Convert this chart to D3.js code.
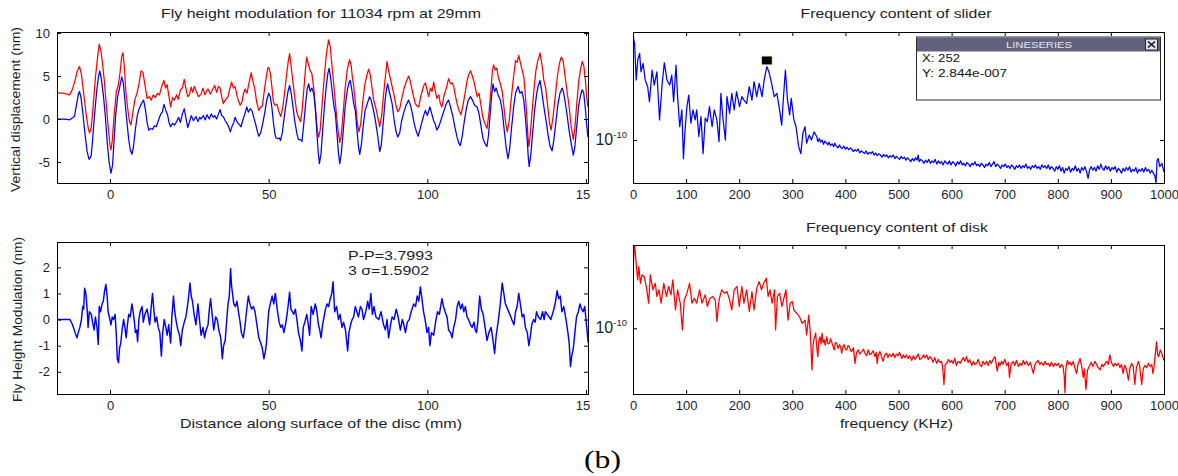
<!DOCTYPE html>
<html>
<head>
<meta charset="utf-8">
<script src="https://cdn.jsdelivr.net/npm/d3@7"></script>
<style>
  body { margin: 0; background: #fff; }
</style>
</head>
<body>
<svg id="fig" width="1178" height="476"></svg>
<script>
// ---- data ----
// top left: vertical displacement (nm) vs distance (mm)
const dispRed = [
  [-16.8,3.05],[-15,3.0],[-13.5,2.9],[-12.8,2.8],[-12,3.3],[-11,4.5],[-10.3,5.6],[-9.6,6.1],[-9.0,5.2],[-8.3,3.0],
  [-7.5,0.5],[-6.8,-1.2],[-6.4,-1.6],[-5.9,-1.0],[-5.3,1.5],[-4.6,4.8],[-3.9,7.2],[-3.4,8.7],[-2.9,8.0],[-2.4,6.6],
  [-1.8,4.5],[-1.2,1.8],[-0.5,-1.2],[0.0,-3.0],[0.3,-3.6],[0.7,-2.6],[1.3,0.4],[2.0,3.2],[2.6,3.9],[3.2,5.5],
  [3.7,7.3],[4.1,7.7],[4.5,6.2],[5.0,3.2],[5.6,1.2],[6.1,-0.2],[6.6,-0.7],[7.1,0.5],[7.8,2.2],[8.5,3.0],
  [9.2,4.2],[9.8,5.6],[10.4,5.4],[11.0,4.0],[11.7,2.4],[12.4,2.6],[13.0,2.2],[13.6,2.8],[14.3,2.5],[15.0,3.0],
  [15.6,2.8],[16.3,3.8],[17.0,4.5],[17.5,3.6],[18.0,4.0],[18.5,2.8],[19.1,1.4],[19.7,2.5],[20.3,2.2],[21.0,2.8],
  [21.5,2.3],[22.2,3.4],[22.8,3.6],[23.4,4.6],[24.0,3.4],[24.5,2.6],[25.0,2.8],[25.6,3.7],[26.1,3.1],[26.6,3.8],
  [27.3,3.1],[27.9,2.6],[28.7,2.9],[29.3,3.6],[29.9,2.8],[30.5,3.3],[30.9,3.5],[31.6,2.9],[32.3,3.4],[33.0,3.9],
  [33.6,3.1],[34.2,3.8],[34.7,3.6],[35.2,2.6],[35.7,1.8],[36.3,2.2],[37.2,2.6],[37.8,3.6],[38.3,4.3],[38.9,3.6],
  [39.4,3.8],[40.1,2.6],[40.6,2.0],[41.0,1.6],[41.6,2.0],[42.1,3.0],[42.6,3.5],[43.2,3.0],[43.8,4.2],[44.2,4.8],
  [44.5,5.4],[45.0,4.4],[45.6,3.6],[46.2,2.0],[46.9,1.0],[47.5,1.4],[48.0,1.5],[48.6,3.2],[49.2,4.8],[49.7,5.9],
  [50.0,6.0],[50.5,5.4],[51.0,3.8],[51.5,2.0],[52.0,1.6],[52.6,1.7],[53.2,0.9],[53.8,0.3],[54.4,1.2],[55.0,3.0],
  [55.6,5.0],[56.2,6.8],[56.6,7.6],[57.0,6.4],[57.6,4.5],[58.2,2.6],[58.8,0.9],[59.4,0.2],[60.0,-0.3],[60.5,0.8],
  [61.1,3.5],[61.6,5.8],[62.0,7.2],[62.5,6.4],[63.1,5.6],[63.6,5.3],[64.2,3.6],[64.8,1.0],[65.3,-1.2],[65.7,-2.1],
  [66.2,-1.4],[66.8,1.5],[67.5,4.8],[68.2,7.6],[68.9,9.2],[69.4,8.4],[69.9,6.4],[70.5,4.1],[71.0,2.0],[71.6,-0.4],
  [72.0,-1.8],[72.4,-2.75],[72.9,-1.8],[73.5,0.8],[74.1,3.6],[74.8,5.8],[75.5,6.9],[76.0,6.2],[76.4,4.8],[76.8,3.8],
  [77.3,2.0],[77.9,-0.3],[78.4,-1.5],[79.0,-0.6],[79.6,1.8],[80.3,4.0],[80.9,5.0],[81.5,5.8],[82.0,5.2],[82.5,3.8],
  [83.1,2.2],[83.7,1.4],[84.4,0.2],[85.0,-0.9],[85.6,0.4],[86.3,3.2],[86.8,5.0],[87.3,6.7],[87.8,5.6],[88.3,4.8],
  [88.9,3.8],[89.5,2.8],[90.1,1.6],[90.7,0.85],[91.3,1.2],[92.0,2.5],[92.7,3.6],[93.4,4.4],[94.1,5.0],[94.7,4.3],
  [95.3,3.2],[95.8,2.4],[96.2,1.8],[96.8,1.5],[97.3,1.4],[97.9,2.6],[98.5,3.4],[98.9,3.9],[99.4,4.2],[99.9,3.4],
  [100.4,2.6],[101.0,3.6],[101.5,3.2],[102.0,4.3],[102.5,3.3],[103.0,2.4],[103.6,2.8],[104.1,1.8],[104.6,1.4],[105.3,2.8],
  [106.0,3.6],[106.7,4.7],[107.3,4.1],[107.8,4.2],[108.3,3.8],[108.9,2.6],[109.5,1.6],[110.0,1.0],[110.6,0.5],[111.2,1.5],
  [111.9,3.0],[112.6,4.6],[113.1,5.2],[113.6,5.6],[114.2,5.0],[114.8,4.2],[115.3,3.3],[115.7,2.6],[116.3,3.0],[116.9,1.6],
  [117.5,0.2],[118.2,-0.6],[118.8,-1.1],[119.4,0.6],[120.0,3.2],[120.5,5.6],[120.9,6.3],[121.4,5.7],[121.9,5.9],[122.4,4.8],
  [123.0,4.1],[123.6,3.2],[124.2,1.2],[124.7,-0.5],[125.2,-1.5],[125.8,-0.2],[126.5,2.6],[127.2,5.0],[127.8,6.8],[128.3,6.6],
  [128.8,7.4],[129.3,6.6],[129.8,5.8],[130.4,4.9],[130.9,2.8],[131.4,0.0],[131.7,-2.0],[132.0,-3.2],[132.4,-2.0],[133.0,0.8],
  [133.6,3.4],[134.2,5.6],[134.8,6.8],[135.2,7.2],[135.5,7.7],[136.0,6.6],[136.4,5.6],[136.7,4.5],[137.3,3.6],[137.9,1.6],
  [138.5,-0.4],[139.0,-1.3],[139.6,0.2],[140.3,2.6],[141.0,5.0],[141.6,6.4],[142.2,7.2],[142.8,6.8],[143.4,5.0],[144.1,3.0],
  [144.7,1.4],[145.3,-0.8],[146.0,-2.4],[146.5,-1.0],[147.1,1.8],[147.7,4.4],[148.3,5.8],[148.8,6.7],[149.3,6.2],[149.8,4.6],
  [150.2,2.6],[150.6,1.4]
];
const dispBlue = [
  [-16.8,0.0],[-15,0.0],[-13.5,-0.05],[-12.8,-0.1],[-12.0,0.1],[-11.2,0.3],[-10.5,1.8],[-9.9,3.0],[-9.6,3.2],[-9.1,2.4],
  [-8.5,0.5],[-7.8,-2.0],[-7.2,-3.8],[-6.6,-4.7],[-6.2,-4.5],[-5.9,-4.2],[-5.4,-2.0],[-4.8,0.8],[-4.2,3.2],[-3.6,5.0],
  [-3.2,5.6],[-2.7,4.6],[-2.1,2.8],[-1.5,0.5],[-0.9,-2.6],[-0.3,-5.0],[0.3,-6.3],[0.8,-5.4],[1.3,-2.4],[1.8,0.5],
  [2.4,2.6],[3.0,3.6],[3.7,4.9],[4.2,4.2],[4.7,2.2],[5.3,-0.2],[5.9,-2.4],[6.4,-3.6],[6.9,-4.1],[7.4,-3.2],
  [8.0,-1.2],[8.6,0.4],[9.2,1.2],[9.9,1.8],[10.6,2.2],[11.2,1.0],[11.7,-0.4],[12.2,-1.3],[12.8,-1.1],[13.4,-1.2],
  [14.0,-0.8],[14.6,-0.9],[15.4,0.0],[16.0,0.6],[16.5,0.8],[17.0,1.7],[17.6,1.0],[18.2,0.4],[18.6,-0.4],[19.1,-0.9],
  [19.7,-0.5],[20.3,-0.7],[21.0,-0.3],[21.6,0.2],[22.2,-0.4],[22.8,0.6],[23.4,1.2],[23.9,0.2],[24.5,-1.0],[25.0,-0.4],
  [25.6,0.4],[26.3,-0.2],[27.1,0.3],[27.7,-0.3],[28.3,0.2],[28.7,0.0],[29.4,0.4],[30.0,-0.1],[30.6,0.5],[31.3,0.0],
  [31.9,0.6],[32.5,0.2],[33.0,0.4],[33.6,0.0],[34.2,0.6],[34.7,1.1],[35.2,0.4],[35.8,0.2],[36.3,-0.2],[37.0,-0.6],
  [37.5,-1.0],[37.9,-1.5],[38.5,-0.8],[39.0,-0.4],[39.4,0.2],[40.0,-0.3],[40.6,-0.6],[41.3,-0.9],[41.8,-0.2],[42.5,0.6],
  [43.1,1.4],[43.6,0.8],[44.2,1.2],[44.7,1.0],[45.3,0.2],[45.9,-0.6],[46.4,-1.4],[46.9,-2.0],[47.5,-1.6],[48.2,-0.4],
  [48.8,0.8],[49.4,2.2],[50.0,3.0],[50.5,2.6],[51.0,1.4],[51.5,-0.4],[52.0,-1.8],[52.3,-2.2],[52.9,-2.3],[53.4,-2.2],
  [53.7,-2.5],[54.3,-1.6],[54.9,0.2],[55.5,1.8],[56.1,3.2],[56.6,3.9],[57.1,3.0],[57.6,1.6],[58.2,-0.2],[58.9,-1.7],
  [59.4,-2.4],[60.0,-2.4],[60.5,-2.6],[61.0,-0.8],[61.6,1.6],[62.1,3.4],[62.6,4.1],[63.1,3.2],[63.6,3.6],[64.2,3.0],
  [64.7,1.2],[65.2,-1.6],[65.6,-3.8],[66.0,-5.2],[66.5,-4.0],[67.0,-1.4],[67.6,1.6],[68.2,4.0],[68.7,5.4],[69.1,5.9],
  [69.6,4.6],[70.2,2.6],[70.6,1.4],[71.0,0.7],[71.5,-1.6],[72.0,-4.0],[72.4,-5.2],[72.9,-4.0],[73.5,-1.4],[74.1,1.4],
  [74.8,3.4],[75.3,4.2],[75.7,4.5],[76.2,3.4],[76.8,1.8],[77.3,1.0],[77.8,-1.2],[78.3,-3.2],[78.7,-4.1],[79.2,-3.0],
  [79.8,-0.8],[80.4,1.0],[81.1,1.8],[81.8,2.6],[82.3,2.2],[82.9,1.2],[83.6,-0.1],[84.3,-1.8],[85.0,-3.8],[85.5,-3.0],
  [86.1,-0.4],[86.7,2.2],[87.1,3.4],[87.5,4.1],[88.0,3.2],[88.4,2.6],[88.9,1.8],[89.5,0.0],[90.1,-1.4],[90.7,-2.1],
  [91.3,-1.6],[91.9,-0.2],[92.6,0.8],[93.3,1.6],[94.1,2.2],[94.7,1.6],[95.3,0.6],[95.9,-0.6],[96.5,-1.4],[97.1,-2.0],
  [97.7,-1.2],[98.4,-0.2],[99.0,0.6],[99.4,1.0],[100.0,0.4],[100.8,1.4],[101.4,0.6],[102.0,-0.2],[102.5,-0.6],[103.0,-1.3],
  [103.7,-0.8],[104.4,0.0],[105.1,0.8],[105.8,1.6],[106.3,2.0],[106.7,2.2],[107.3,1.4],[108.0,0.4],[108.6,-0.8],[109.3,-2.0],
  [109.9,-2.8],[110.4,-3.1],[111.0,-2.0],[111.6,-0.4],[112.3,1.2],[112.9,2.2],[113.6,2.6],[114.2,2.2],[114.9,1.6],[115.7,1.4],
  [116.3,0.6],[116.9,-0.8],[117.5,-2.2],[118.1,-2.8],[118.8,-3.2],[119.3,-1.8],[119.8,0.6],[120.3,2.8],[120.7,4.1],[121.2,3.2],
  [121.7,3.6],[122.3,2.8],[123.0,2.2],[123.6,1.0],[124.2,-1.2],[124.8,-3.2],[125.4,-4.6],[125.9,-3.6],[126.5,-1.2],[127.2,1.4],
  [127.8,3.0],[128.2,3.4],[128.6,3.8],[129.2,3.0],[129.8,3.2],[130.4,2.2],[130.9,0.2],[131.5,-2.6],[131.8,-4.4],[132.1,-5.5],
  [132.6,-4.2],[133.2,-1.6],[133.8,1.0],[134.4,2.8],[134.9,3.8],[135.5,4.5],[136.0,3.4],[136.5,2.0],[136.9,1.0],[137.5,-0.4],
  [138.1,-2.0],[138.7,-3.2],[139.3,-3.7],[139.8,-2.6],[140.5,-0.4],[141.2,1.8],[141.8,3.0],[142.5,3.6],[143.0,3.0],[143.6,1.6],
  [144.1,0.3],[144.7,-1.4],[145.4,-3.0],[146.0,-4.2],[146.5,-3.2],[147.1,-0.8],[147.7,1.6],[148.3,2.8],[148.8,3.4],[149.3,3.0],
  [149.8,1.2],[150.2,-0.6],[150.6,-2.1]
];

// bottom left: fly height modulation (nm) vs distance (mm)
const flyMod = [
  [-16.8,0],[-15.0,0],[-13.5,0],[-12.6,0.0],[-11.8,-0.2],[-11.0,-0.5],[-10.4,-0.7],[-10.0,-0.5],[-9.5,-0.3],[-9.0,0.0],
  [-8.6,0.5],[-8.3,0.4],[-8.0,1.2],[-7.6,1.0],[-7.2,0.4],[-6.9,-0.3],[-6.5,0.3],[-5.9,0.2],[-5.5,-0.1],[-5.0,-0.4],
  [-4.6,0.1],[-4.1,-0.3],[-3.7,-0.95],[-3.4,0.5],[-3.0,0.3],[-2.5,0.6],[-2.1,0.7],[-1.7,1.1],[-1.3,1.35],[-0.9,0.9],
  [-0.6,0.3],[-0.2,0.1],[0.3,-0.2],[0.7,0.1],[1.1,0.0],[1.6,0.2],[2.0,-0.6],[2.3,-1.5],[2.7,-1.65],[3.0,-1.1],
  [3.4,-0.9],[3.8,-0.4],[4.3,0.0],[4.7,-0.3],[5.1,-0.7],[5.5,-0.2],[5.9,0.2],[6.4,0.1],[6.9,0.6],[7.3,0.3],
  [7.7,-0.1],[8.0,-0.5],[8.4,-0.4],[8.7,-0.85],[9.1,0.0],[9.5,0.3],[10.1,0.5],[10.5,-0.1],[11.0,0.2],[11.7,0.4],
  [12.1,0.1],[12.5,-0.2],[13.0,0.5],[13.4,1.0],[13.8,0.4],[14.2,-0.1],[14.7,0.1],[15.2,-0.3],[15.7,-0.5],[16.2,-1.4],
  [16.6,-0.5],[17.1,0.0],[17.6,-0.3],[18.0,-0.6],[18.5,-0.2],[19.1,-0.9],[19.5,0.1],[20.0,0.9],[20.4,0.3],[20.9,-0.1],
  [21.4,-0.4],[21.9,-0.6],[22.3,-1.0],[22.8,-0.4],[23.4,-0.1],[23.9,0.1],[24.3,0.4],[24.8,0.9],[25.2,1.4],[25.6,0.9],
  [26.0,0.7],[26.5,0.2],[27.1,-0.2],[27.7,0.6],[28.2,0.0],[28.7,-0.6],[29.3,-0.3],[29.8,-0.7],[30.3,-0.4],[30.9,-0.2],
  [31.3,0.4],[31.7,0.8],[32.2,0.2],[32.7,-0.4],[33.3,0.1],[33.8,0.0],[34.3,-0.4],[34.9,-0.7],[35.4,-1.5],[35.8,-1.0],
  [36.3,-0.8],[36.8,0.0],[37.2,0.6],[37.6,0.9],[38.0,1.95],[38.3,1.3],[38.6,1.0],[39.0,0.6],[39.5,0.5],[40.0,0.7],
  [40.6,0.2],[41.0,-0.1],[41.4,-0.5],[42.0,-0.7],[42.5,-0.3],[43.0,0.3],[43.6,0.9],[44.1,0.6],[44.6,0.4],[45.2,0.5],
  [45.7,0.3],[46.3,-0.2],[46.9,-0.7],[47.5,-0.9],[48.0,-1.1],[48.5,-1.5],[49.0,-1.2],[49.3,-0.9],[49.7,-0.2],[50.0,0.3],
  [50.5,0.6],[51.1,0.9],[51.6,0.6],[52.1,1.0],[52.5,0.6],[52.8,0.3],[53.3,-0.1],[53.8,-0.3],[54.3,-0.2],[54.8,-0.5],
  [55.3,-0.2],[55.8,0.2],[56.2,0.6],[56.6,1.05],[57.0,0.4],[57.5,0.3],[57.9,0.2],[58.4,0.4],[58.9,0.0],[59.4,-0.5],
  [60.0,-0.8],[60.5,-1.2],[60.9,-0.3],[61.4,-0.1],[62.0,0.2],[62.5,-0.2],[62.9,-0.6],[63.4,0.5],[64.0,0.2],[64.7,0.6],
  [65.2,0.3],[65.7,-0.2],[66.1,-0.4],[66.5,-0.7],[67.0,-0.2],[67.3,0.0],[67.9,0.4],[68.4,0.6],[68.9,0.5],[69.4,0.8],
  [69.9,1.0],[70.3,1.45],[70.8,0.3],[71.4,0.5],[72.0,0.0],[72.5,0.2],[73.1,-0.3],[73.6,-0.1],[74.2,-0.4],[74.9,-1.2],
  [75.3,-0.5],[75.8,-0.2],[76.3,0.0],[76.8,0.1],[77.3,0.5],[77.8,0.3],[78.3,0.1],[78.9,0.5],[79.4,0.4],[79.9,0.0],
  [80.6,0.3],[81.2,0.7],[81.7,0.4],[82.2,1.0],[82.7,0.2],[83.2,0.5],[83.8,0.1],[84.7,0.0],[85.4,0.3],[86.2,-0.2],
  [86.8,-0.4],[87.3,0.0],[87.8,-0.7],[88.4,-0.2],[88.9,0.1],[89.5,0.0],[90.2,0.4],[90.8,0.1],[91.5,-0.4],[92.1,0.0],
  [92.6,-0.2],[93.1,-0.5],[93.7,-0.1],[94.3,0.0],[94.9,0.3],[95.7,0.6],[96.3,0.5],[96.8,0.9],[97.3,0.7],[97.8,1.25],
  [98.3,0.8],[98.8,0.3],[99.3,0.0],[99.9,-0.5],[100.4,-0.3],[100.8,-1.0],[101.3,-0.5],[102.0,-0.6],[102.6,-0.1],[103.2,0.3],
  [103.8,0.2],[104.6,0.8],[105.1,0.5],[105.6,0.3],[106.2,0.1],[106.7,-0.4],[107.3,-0.5],[107.8,-0.7],[108.3,-0.3],[108.9,0.0],
  [109.4,0.5],[109.9,0.7],[110.5,0.4],[111.0,0.6],[111.5,0.3],[112.0,0.5],[112.5,0.1],[113.0,0.0],[113.6,-0.2],[114.1,-0.3],
  [114.7,-0.1],[115.1,-0.4],[115.5,-0.5],[115.9,-0.1],[116.5,0.9],[117.0,0.4],[117.6,0.2],[118.2,-0.3],[118.8,-0.8],[119.4,-0.5],
  [120.1,-0.3],[120.6,-0.7],[121.2,-1.3],[121.7,-0.6],[122.3,-0.1],[122.9,0.5],[123.6,1.4],[124.1,1.0],[124.6,0.6],[125.3,0.4],
  [126.0,0.2],[126.6,0.0],[127.3,-0.2],[127.8,0.3],[128.3,0.5],[128.8,1.0],[129.3,0.6],[129.9,0.1],[130.4,0.2],[130.9,-0.3],
  [131.5,-0.5],[132.0,-1.0],[132.5,-0.6],[132.9,-0.2],[133.5,0.0],[134.0,-0.1],[134.4,0.3],[135.0,0.1],[135.7,0.0],[136.3,0.3],
  [136.8,0.0],[137.2,0.3],[137.8,0.2],[138.4,0.1],[138.9,0.0],[139.4,0.2],[139.9,0.4],[140.4,0.7],[140.9,1.1],[141.4,0.8],
  [141.9,0.9],[142.4,0.3],[143.0,0.5],[143.7,0.0],[144.3,-0.5],[144.7,-0.9],[145.1,-1.8],[145.5,-1.4],[146.0,-1.1],[146.5,-0.5],
  [147.0,0.1],[147.6,0.3],[148.1,0.6],[148.6,0.4],[149.1,0.3],[149.6,0.5],[150.0,0.0],[150.7,-0.9]
];

// spectra: frequency (KHz) vs amplitude, in units of 1e-10
const SPEC_UNIT = 1e-10;
const sliderSpec = [
  [0,8.0],[1.5,6.8],[3,6.4],[6,3.16],[9,4.64],[12.5,5.27],[15,3.7],[19,4.35],[23,3.16],[27.6,2.78],
  [31,2.09],[36,3.83],[40,2.87],[45,3.7],[50,1.47],[55,2.97],[59,4.4],[64,3.16],[69,2.87],[73,3.48],
  [76.5,2.09],[81,4.2],[84,2.3],[88,1.29],[92,1.78],[95,0.70],[98,1.21],[101.6,1.9],[105,2.37],[109,1.38],
  [113,1.78],[117,1.47],[120,1.78],[124,1.07],[128,1.57],[132,0.77],[136,1.52],[140,1.42],[144,1.9],[149,1.29],
  [153,1.78],[158,1.47],[162,0.97],[165.6,2.45],[169,1.57],[174,1.0],[177,2.3],[182,1.67],[186,2.45],[190.6,1.78],
  [195,2.53],[200.6,1.9],[205,2.3],[209,2.15],[214,2.02],[219,2.78],[224,2.15],[228,3.06],[233,2.3],[237.6,2.97],
  [243,2.3],[247,3.16],[252,4.08],[256,3.7],[261,2.97],[266,2.3],[271,2.45],[276,1.78],[280,1.33],[283,2.15],
  [287,3.83],[291,2.15],[295,1.62],[298,2.22],[303,1.47],[307,1.29],[312,0.88],[316,0.77],[320,1.14],[324,1.29],
  [327,0.94],[332,1.1],[336,1.0],[341,1.17],
  [346,1.07],[348,0.97],[351,1.03],[353,0.96],[356,1.00],[359,0.92],[361,0.98],[364,0.95],[367,0.91],[369,0.96],
  [372,0.90],[375,0.93],[378,0.88],[380,0.94],[383,0.89],[386,0.86],[389,0.91],[391,0.87],[394,0.85],[397,0.89],
  [400,0.84],[403,0.87],[406,0.83],[409,0.86],[412,0.84],[415,0.80],[418,0.83],[421,0.81],[424,0.84],[427,0.78],
  [430,0.81],[433,0.79],[436,0.77],[439,0.81],[442,0.76],[445,0.79],[448,0.77],[451,0.80],[454,0.75],[457,0.78],
  [460,0.74],[463,0.77],[466,0.75],[469,0.72],[472,0.76],[475,0.73],[478,0.75],[481,0.71],[484,0.74],[487,0.72],
  [490,0.75],[493,0.70],[496,0.73],[499,0.71],[502,0.69],[505,0.73],[508,0.70],[511,0.72],[514,0.68],[517,0.71],
  [520,0.69],[523,0.66],[526,0.70],[529,0.67],[532,0.71],[535,0.68],[537,0.75],[539,0.66],[542,0.69],[545,0.67],
  [548,0.64],[551,0.68],[554,0.65],[557,0.69],[560,0.64],[563,0.67],[566,0.65],[569,0.69],[572,0.63],[575,0.67],
  [578,0.64],[581,0.66],[584,0.62],[587,0.67],[590,0.65],[593,0.63],[596,0.67],[599,0.62],[602,0.66],[605,0.64],
  [608,0.61],[611,0.66],[614,0.63],[617,0.67],[620,0.62],[623,0.64],[626,0.61],[629,0.65],[632,0.63],[635,0.60],
  [638,0.64],[641,0.62],[644,0.66],[647,0.61],[650,0.63],[653,0.60],[656,0.64],[659,0.62],[662,0.59],[665,0.63],
  [668,0.61],[671,0.65],[674,0.60],[677,0.63],[680,0.66],[683,0.60],[686,0.63],[689,0.61],[692,0.58],[695,0.62],
  [698,0.60],[701,0.63],[704,0.59],[707,0.61],[710,0.58],[713,0.62],[716,0.60],[719,0.57],[722,0.61],[725,0.59],
  [728,0.62],[731,0.58],[734,0.61],[737,0.59],[740,0.63],[743,0.58],[746,0.60],[749,0.57],[752,0.61],[755,0.59],
  [758,0.62],[761,0.58],[764,0.60],[767,0.57],[770,0.62],[773,0.59],[776,0.61],[779,0.58],[782,0.62],[785,0.57],
  [788,0.60],[791,0.58],[794,0.55],[797,0.60],[800,0.57],[803,0.61],[806,0.55],[809,0.59],[812,0.53],[815,0.58],
  [818,0.56],[821,0.60],[824,0.54],[827,0.58],[830,0.56],[833,0.61],[836,0.55],[839,0.58],[842,0.53],[845,0.59],
  [848,0.56],[851,0.60],[854,0.55],[857,0.48],[860,0.57],[863,0.60],[866,0.56],[869,0.59],[872,0.55],[875,0.61],
  [878,0.57],[881,0.63],[884,0.58],[887,0.56],[890,0.61],[893,0.57],[896,0.60],[899,0.55],[902,0.59],[905,0.57],
  [908,0.60],[911,0.54],[914,0.58],[917,0.56],[920,0.53],[923,0.58],[926,0.55],[929,0.59],[932,0.56],[935,0.60],
  [938,0.54],[941,0.57],[944,0.55],[947,0.59],[950,0.53],[953,0.57],[956,0.55],[959,0.58],[962,0.54],[965,0.59],
  [968,0.55],[971,0.57],[974,0.53],[977,0.56],[980,0.53],[983,0.50],[985,0.44],[987,0.68],[989,0.70],[992,0.60],
  [996,0.64],[1000,0.54]
];
const diskSpec = [
  [0,5.2],[1,3.48],[2.5,5.2],[6,3.48],[8.8,2.53],[11,3.26],[14,2.37],[17,2.78],[21,2.70],[25,2.23],
  [29.5,1.62],[32.6,2.78],[37.6,2.09],[42,2.37],[45,1.84],[49,2.09],[53,1.62],[58,2.37],[63,1.84],[67,2.23],
  [71.5,1.90],[75,2.53],[80,1.42],[84,2.09],[89,1.62],[93,0.97],[96.5,1.72],[101.6,1.96],[106.5,2.37],[111,1.62],
  [115.4,1.78],[120,1.62],[125.4,2.09],[130,1.62],[136,1.90],[140,1.52],[145,1.78],[150,1.84],[155,1.72],[158,1.14],
  [162,1.72],[167,2.09],[172,1.96],[177,2.02],[182,1.72],[186,1.42],[190.6,2.09],[196,2.23],[200,1.52],[205,2.23],
  [209,1.62],[214,2.09],[219,1.38],[224,2.02],[228,1.42],[233,2.15],[237.6,2.45],[242,2.09],[246,2.37],[251,2.61],
  [254.5,1.84],[258,2.09],[262,1.62],[266.5,2.09],[268.5,0.97],[272,1.84],[276,1.96],[280.5,1.52],[285,1.84],[288,2.09],
  [292,1.17],[296,1.62],[300,1.67],[303,1.42],[308.5,1.33],[313.5,1.25],[318.5,1.10],[324,1.17],[327,0.88],[331,1.29],
  [334,0.91],[337,0.45],[339,0.72],[341,0.82],[344,0.91],[346,0.70],[348,0.58],[350,0.78],[352,0.85],[354,0.74],
  [356,0.91],[358,0.76],[360,0.80],[362,0.72],[365,0.85],[367,0.74],[370,0.75],[372,0.82],[374,0.77],[377,0.70],
  [379,0.66],[381,0.76],[384,0.75],[386,0.68],[389,0.73],[391,0.70],[393,0.62],[395,0.69],[397.5,0.73],[400,0.67],
  [402.5,0.66],[405,0.72],[407.5,0.70],[410,0.65],[412,0.64],[415,0.69],[418,0.51],[421,0.63],[424.5,0.66],[427,0.61],
  [431,0.64],[434,0.67],[437,0.62],[440,0.59],[443,0.66],[446,0.60],[449.5,0.62],[452,0.65],[456,0.58],[458,0.63],
  [460,0.51],[462,0.60],[465,0.64],[468,0.58],[471,0.53],[474,0.60],[477.6,0.62],[480,0.57],[483,0.61],[487,0.58],
  [490,0.62],[493,0.57],[496,0.61],[499,0.59],[502,0.63],[506,0.56],[509,0.60],[512,0.57],[515,0.60],[518,0.56],
  [521,0.59],[525,0.54],[528,0.59],[531,0.55],[534,0.58],[537,0.61],[540,0.55],[543.5,0.56],[547,0.60],[550,0.57],
  [553,0.60],[556,0.55],[559,0.58],[562,0.56],[565,0.52],[568,0.57],[572,0.51],[575,0.55],[578,0.52],[581,0.53],
  [583,0.48],[585.6,0.34],[588,0.50],[590.6,0.51],[594,0.55],[597,0.52],[600,0.54],[603,0.51],[606,0.56],[609,0.49],
  [612,0.53],[616,0.51],[619,0.54],[622,0.57],[625,0.53],[628,0.58],[631,0.52],[634,0.55],[638,0.49],[641,0.53],
  [644,0.50],[647,0.51],[650,0.55],[653,0.50],[656.5,0.48],[659,0.53],[663,0.50],[666,0.53],[669,0.49],[672,0.54],
  [675,0.51],[678,0.55],[682,0.58],[684,0.50],[686,0.44],[689,0.52],[691,0.49],[694,0.53],[697,0.50],[700,0.55],
  [704,0.49],[707,0.52],[709,0.39],[712,0.50],[716,0.53],[719,0.49],[722,0.54],[726,0.48],[729,0.51],[732,0.49],
  [735,0.54],[738,0.50],[741,0.53],[744.5,0.49],[748,0.52],[751,0.47],[754,0.42],[757,0.50],[760,0.52],[763,0.54],
  [766,0.50],[769,0.52],[773,0.49],[776,0.53],[779,0.50],[782,0.51],[785,0.48],[788,0.52],[792,0.48],[795,0.51],
  [798,0.49],[801,0.51],[804,0.47],[807,0.50],[810,0.48],[812,0.40],[813.5,0.29],[815,0.45],[818,0.54],[821,0.50],
  [823,0.52],[826,0.49],[829,0.53],[832,0.47],[835.5,0.42],[838,0.50],[840,0.53],[842,0.56],[845,0.48],[848,0.39],
  [850,0.46],[853,0.31],[856,0.45],[860,0.49],[863,0.52],[866,0.48],[870,0.53],[873,0.50],[876,0.47],[880,0.45],
  [883,0.50],[886,0.48],[889,0.51],[892,0.53],[895,0.50],[898,0.60],[901,0.52],[905,0.48],[908,0.51],[911,0.49],
  [914,0.51],[917,0.47],[920,0.50],[923,0.42],[926,0.49],[929,0.46],[933,0.37],[936,0.47],[939,0.51],[942,0.48],
  [945,0.34],[948,0.47],[951.6,0.53],[954,0.49],[958,0.34],[961,0.46],[964,0.49],[967,0.47],[970.5,0.51],[974,0.48],
  [977,0.50],[979,0.42],[981,0.47],[983,0.58],[986,0.77],[988,0.60],[990,0.58],[993,0.66],[995.7,0.62],[998,0.57],
  [1000,0.54]
];

const distTicks = [0, 50, 100, 150];
const dispTicks = [-5, 0, 5, 10];
const modTicks = [-2, -1, 0, 1, 2];
const freqTicks = [0, 100, 200, 300, 400, 500, 600, 700, 800, 900, 1000];
const specTicks = [1e-10];
const dataTip = { x: 252, y: 2.844e-7, markerLevel: 4.6 };
const stats = ['P-P=3.7993', '3 \u03c3=1.5902'];

// ---- layout ----
const W = 1178, H = 476;
const FONT = '"Liberation Sans", Arial, sans-serif';
const INK = '#1d1d2b';
const svg = d3.select('#fig');
svg.append('rect').attr('width', W).attr('height', H).attr('fill', '#fff');

// the left column is cut at x=590 in the original, so the last "150" loses its 0
const leftRoot = svg.append('svg').attr('x', 0).attr('y', 0).attr('width', 590).attr('height', H);
const rightRoot = svg.append('g');

function label(root, txt, x, y, size, len, opts = {}) {
  const t = root.append('text')
    .attr('font-family', FONT).attr('font-size', size).attr('fill', INK)
    .attr('text-anchor', opts.anchor || 'middle')
    .attr('transform', `translate(${x},${y})` + (opts.rotate ? ' rotate(-90)' : ''))
    .text(txt);
  if (len) t.attr('textLength', len).attr('lengthAdjust', 'spacingAndGlyphs');
  return t;
}

function drawPanel(p) {
  const g = p.root.append('g');
  const clipId = 'clip-' + p.id;
  g.append('clipPath').attr('id', clipId).append('rect')
    .attr('x', p.x0).attr('y', p.y0).attr('width', p.x1 - p.x0).attr('height', p.y1 - p.y0);

  const line = d3.line().x(d => p.x(d[0])).y(d => p.y(d[1] * (p.unit || 1)));
  p.series.forEach(s => {
    g.append('path').datum(s.data)
      .attr('d', line)
      .attr('fill', 'none')
      .attr('stroke', s.color)
      .attr('stroke-width', s.width || 1.25)
      .attr('stroke-linejoin', 'round')
      .attr('clip-path', `url(#${clipId})`);
  });

  const fmt = d => String(d);
  const axes = [
    g.append('g').attr('transform', `translate(0,${p.y1})`)
      .call(d3.axisBottom(p.x).tickValues(p.xTicks).tickSize(-4).tickPadding(7).tickFormat(fmt)),
    g.append('g').attr('transform', `translate(0,${p.y0})`)
      .call(d3.axisTop(p.x).tickValues(p.xTicks).tickSize(-4).tickFormat('')),
    g.append('g').attr('transform', `translate(${p.x0},0)`)
      .call(d3.axisLeft(p.y).tickValues(p.yTicks).tickSize(-4).tickPadding(p.logY ? 6 : 7)
        .tickFormat(p.logY ? () => '' : fmt)),
    g.append('g').attr('transform', `translate(${p.x1},0)`)
      .call(d3.axisRight(p.y).tickValues(p.yTicks).tickSize(-4).tickFormat(''))
  ];
  axes.forEach(a => {
    a.select('.domain').remove();
    a.attr('font-family', FONT).attr('font-size', 13).attr('color', '#000');
    a.selectAll('text').attr('fill', INK);
  });
  if (p.logY) {
    axes[2].selectAll('.tick text').each(function () {
      const t = d3.select(this).attr('dy', '0.36em');
      t.append('tspan').attr('font-size', 16).text('10');
      t.append('tspan').attr('font-size', 9.5).attr('dy', '-0.8em').text('-10');
    });
  }
  g.append('rect')
    .attr('x', p.x0 + 0.5).attr('y', p.y0 + 0.5)
    .attr('width', p.x1 - p.x0).attr('height', p.y1 - p.y0)
    .attr('fill', 'none').attr('stroke', '#000').attr('stroke-width', 1);
  return g;
}

// top left
const xDist = d3.scaleLinear().domain([-16.7, 150.63]).range([57, 588]);
const yDisp = d3.scaleLinear().domain([-7.44, 10.12]).range([183, 32]);
drawPanel({ root: leftRoot, id: 'disp', x0: 57, x1: 588, y0: 32, y1: 183, x: xDist, y: yDisp,
  xTicks: distTicks, yTicks: dispTicks,
  series: [{ data: dispRed, color: '#ff0000' }, { data: dispBlue, color: '#0000ff' }] });
label(leftRoot, 'Fly height modulation for 11034 rpm at 29mm', 321, 18, 13, 320);
label(leftRoot, 'Vertical displacement (nm)', 20, 109.5, 13, 165, { rotate: true });

// bottom left
const xDist2 = d3.scaleLinear().domain([-16.7, 150.63]).range([57, 588]);
const yMod = d3.scaleLinear().domain([-2.85, 2.97]).range([394, 242]);
drawPanel({ root: leftRoot, id: 'mod', x0: 57, x1: 588, y0: 242, y1: 394, x: xDist2, y: yMod,
  xTicks: distTicks, yTicks: modTicks,
  series: [{ data: flyMod, color: '#0000ff', width: 1.45 }] });
label(leftRoot, 'Fly Height Modulation (nm)', 22, 319.5, 13, 165, { rotate: true });
label(leftRoot, 'Distance along surface of the disc (mm)', 321, 428, 13, 282);
stats.forEach((s, i) => label(leftRoot, s, 348, 260 + i * 14.5, 13, i === 0 ? 85 : 81, { anchor: 'start' }));

// top right
const xFreq = d3.scaleLinear().domain([0, 1000]).range([633, 1164]);
const ySlider = d3.scaleLog().domain([0.4385 * SPEC_UNIT, 7.94 * SPEC_UNIT]).range([183, 32]);
drawPanel({ root: rightRoot, id: 'slider', x0: 633, x1: 1164, y0: 32, y1: 183, x: xFreq, y: ySlider,
  xTicks: freqTicks, yTicks: specTicks, logY: true, unit: SPEC_UNIT,
  series: [{ data: sliderSpec, color: '#0000ff' }] });
label(rightRoot, 'Frequency content of slider', 896, 18, 13, 191);

// bottom right
const xFreq2 = d3.scaleLinear().domain([0, 1000]).range([633, 1164]);
const yDisk = d3.scaleLog().domain([0.2835 * SPEC_UNIT, 4.94 * SPEC_UNIT]).range([394, 245]);
drawPanel({ root: rightRoot, id: 'disk', x0: 633, x1: 1164, y0: 245, y1: 394, x: xFreq2, y: yDisk,
  xTicks: freqTicks, yTicks: specTicks, logY: true, unit: SPEC_UNIT,
  series: [{ data: diskSpec, color: '#ff0000' }] });
label(rightRoot, 'Frequency content of disk', 897, 232, 13, 182);
label(rightRoot, 'frequency (KHz)', 896.5, 428, 13, 113);

// data tip marker and box
const mx = xFreq(dataTip.x), my = ySlider(dataTip.markerLevel * SPEC_UNIT);
rightRoot.append('rect')
  .attr('x', mx - 5.5).attr('y', my - 4.5).attr('width', 11).attr('height', 9)
  .attr('fill', '#000').attr('stroke', '#fff8c8').attr('stroke-width', 1);

const tip = rightRoot.append('g').attr('transform', 'translate(916,36.5)');
tip.append('rect').attr('x', 0.5).attr('y', 0.5).attr('width', 244).attr('height', 63)
  .attr('fill', '#fff').attr('stroke', '#2a2a2a').attr('stroke-width', 1);
tip.append('rect').attr('x', 1).attr('y', 1).attr('width', 243).attr('height', 14)
  .attr('fill', '#62627e');
tip.append('text').attr('x', 123).attr('y', 11).attr('text-anchor', 'middle')
  .attr('font-family', FONT).attr('font-size', 9.5).attr('fill', '#e4e4ee')
  .attr('textLength', 66).attr('lengthAdjust', 'spacingAndGlyphs').text('LINESERIES');
const cb = tip.append('g').attr('transform', 'translate(229,2)');
cb.append('rect').attr('x', 0.5).attr('y', 0.5).attr('width', 12).attr('height', 11)
  .attr('fill', '#dfe4ec').attr('stroke', '#223').attr('stroke-width', 1);
cb.append('path').attr('d', 'M3,3L10,9M10,3L3,9').attr('stroke', '#111').attr('stroke-width', 1.6);
tip.append('text').attr('x', 6).attr('y', 25.2).attr('font-family', FONT).attr('font-size', 11.5)
  .attr('fill', '#111').attr('textLength', 38).attr('lengthAdjust', 'spacingAndGlyphs')
  .text('X: ' + dataTip.x);
tip.append('text').attr('x', 6).attr('y', 40.2).attr('font-family', FONT).attr('font-size', 11.5)
  .attr('fill', '#111').attr('textLength', 85).attr('lengthAdjust', 'spacingAndGlyphs')
  .text('Y: ' + dataTip.y.toExponential(3).replace('e-', 'e-00'));

// caption
svg.append('text').attr('x', 602.5).attr('y', 468).attr('text-anchor', 'middle')
  .attr('font-family', '"Liberation Serif", "Times New Roman", serif').attr('font-size', 25)
  .attr('fill', '#000').attr('textLength', 37).attr('lengthAdjust', 'spacingAndGlyphs').text('(b)');
</script>
</body>
</html>
